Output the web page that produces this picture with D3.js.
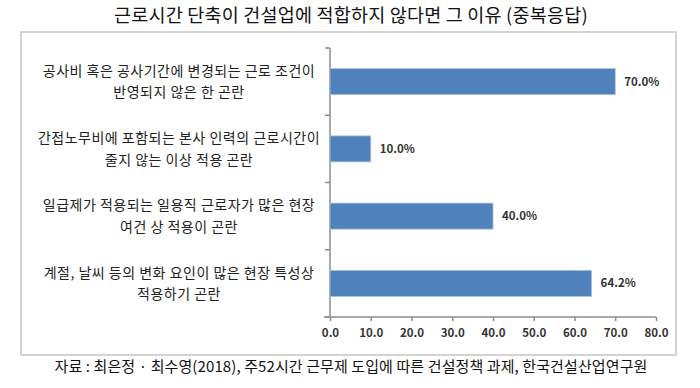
<!DOCTYPE html>
<html>
<head>
<meta charset="utf-8">
<script src="https://cdn.jsdelivr.net/npm/d3@7"></script>
<style>
  html, body { margin: 0; padding: 0; background: #fff; }
  svg { display: block; }
  text { font-family: "Noto Sans CJK KR", "Noto Sans", sans-serif; }
</style>
</head>
<body>
<script>
const title = "근로시간 단축이 건설업에 적합하지 않다면 그 이유 (중복응답)";
const source = "자료 : 최은정 · 최수영(2018), 주52시간 근무제 도입에 따른 건설정책 과제, 한국건설산업연구원";
const categories = [
  ["공사비 혹은 공사기간에 변경되는 근로 조건이", "반영되지 않은 한 곤란"],
  ["간접노무비에 포함되는 본사 인력의 근로시간이", "줄지 않는 이상 적용 곤란"],
  ["일급제가 적용되는 일용직 근로자가 많은 현장", "여건 상 적용이 곤란"],
  ["계절, 날씨 등의 변화 요인이 많은 현장 특성상", "적용하기 곤란"]
];
const values = [70.0, 10.0, 40.0, 64.2];
const xTicks = [0, 10, 20, 30, 40, 50, 60, 70, 80];

const W = 700, H = 388;
const svg = d3.select("body").append("svg").attr("width", W).attr("height", H);

// frame
svg.append("rect").attr("x", 21).attr("y", 32).attr("width", 655).attr("height", 323)
  .attr("fill", "#fff").attr("stroke", "#c4c4c4").attr("stroke-width", 1.5);

// title
svg.append("text").attr("x", 351).attr("y", 22).attr("text-anchor", "middle")
  .attr("font-size", 18.5).attr("letter-spacing", 0.2).attr("fill", "#111").text(title);

// source
svg.append("text").attr("x", 351).attr("y", 372).attr("text-anchor", "middle")
  .attr("font-size", 15).attr("letter-spacing", 0.1).attr("fill", "#111").text(source);

const idx = categories.map((d, i) => i);
const x = d3.scaleLinear().domain([0, 80]).range([330, 656]);
const y = d3.scaleBand().domain(idx).range([48, 317]).paddingInner(0.613).paddingOuter(0.3065);

// y axis line + boundary ticks
const g = svg.append("g");
g.append("line").attr("x1", x(0)).attr("x2", x(0)).attr("y1", 48).attr("y2", 317)
  .attr("stroke", "#8c8c8c").attr("stroke-width", 1.5);
const bounds = d3.range(categories.length + 1).map(i => 48 + i * y.step());
g.selectAll(".yt").data(bounds).join("line")
  .attr("x1", x(0) - 5).attr("x2", x(0)).attr("y1", d => d).attr("y2", d => d)
  .attr("stroke", "#8c8c8c").attr("stroke-width", 1.5);

// x axis
const xAxis = d3.axisBottom(x).tickValues(xTicks).tickFormat(d3.format(".1f")).tickSize(4).tickSizeOuter(0);
const xg = svg.append("g").attr("transform", "translate(0,317)").call(xAxis);
xg.select(".domain").attr("stroke", "#8c8c8c").attr("stroke-width", 1.5)
  .attr("d", `M${x(0) - 6},0H${x(80)}`);
xg.selectAll(".tick line").attr("stroke", "#8c8c8c").attr("stroke-width", 1.5);
xg.selectAll(".tick text").attr("font-size", 11.5).attr("fill", "#333").attr("y", 12)
  .attr("font-family", "\"Noto Sans\", sans-serif").attr("font-weight", 600);

// bars
svg.selectAll(".bar").data(values).join("rect")
  .attr("x", x(0)).attr("y", (d, i) => y(i))
  .attr("width", d => x(d) - x(0)).attr("height", y.bandwidth())
  .attr("fill", "#4f81bd").attr("stroke", "#a9c0e0").attr("stroke-width", 0.8);

// value labels
svg.selectAll(".vl").data(values).join("text")
  .attr("x", d => x(d) + 9).attr("y", (d, i) => y(i) + y.bandwidth() / 2 + 4)
  .attr("font-size", 11.5).attr("fill", "#333").attr("font-weight", 600)
  .attr("font-family", "\"Noto Sans\", sans-serif")
  .text(d => d3.format(".1f")(d) + "%");

// category labels
const cl = svg.selectAll(".cl").data(categories).join("text")
  .attr("text-anchor", "middle").attr("font-size", 14).attr("letter-spacing", 0.5).attr("fill", "#222");
cl.each(function(d, i) {
  const cy = y(i) + y.bandwidth() / 2;
  d3.select(this).selectAll("tspan").data(d).join("tspan")
    .attr("x", 179).attr("y", (t, j) => cy - 10.8 + j * 21.6 + 5).text(t => t);
});
</script>
</body>
</html>
